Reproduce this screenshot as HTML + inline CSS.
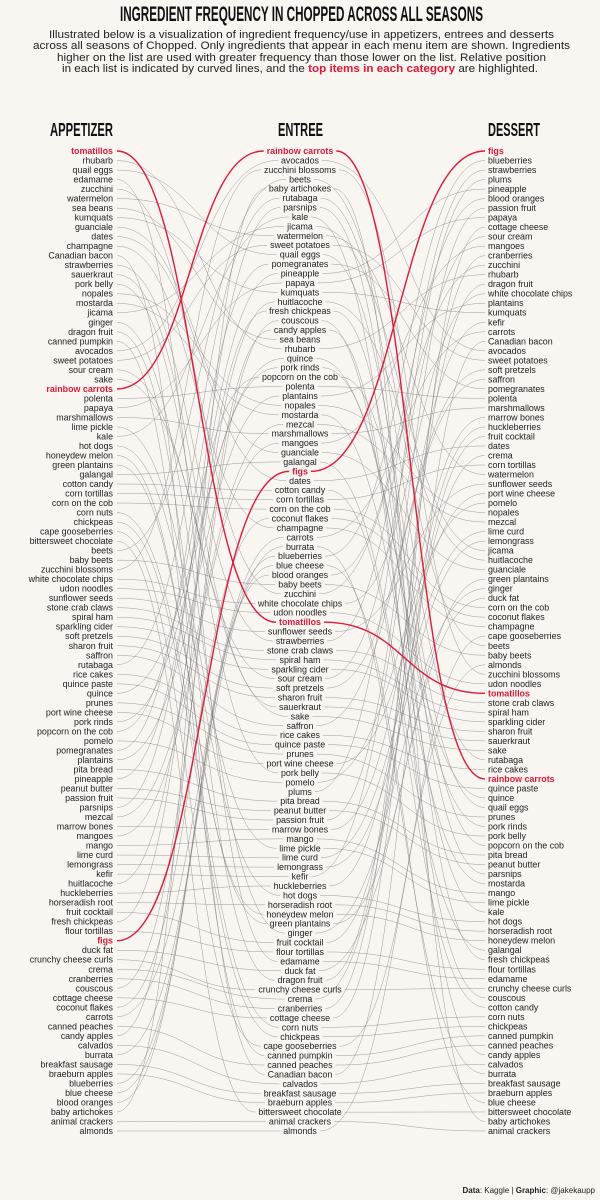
<!DOCTYPE html>
<html><head><meta charset="utf-8"><style>
html,body{margin:0;padding:0;background:#f9f5f1;}
svg{display:block}
</style></head><body>
<svg id="s" width="600" height="1200" xmlns="http://www.w3.org/2000/svg" font-family="Liberation Sans, sans-serif">
<rect width="600" height="1200" fill="#f9f5f1"/>
<text x="120" y="21" textLength="363" lengthAdjust="spacingAndGlyphs" font-weight="bold" font-size="19" fill="#111" transform="translate(0,21) scale(1,1.1) translate(0,-21)">INGREDIENT FREQUENCY IN CHOPPED ACROSS ALL SEASONS</text>
<g font-size="11" fill="#222">
<text x="49" y="38" textLength="505" lengthAdjust="spacingAndGlyphs">Illustrated below is a visualization of ingredient frequency/use in appetizers, entrees and desserts</text>
<text x="33" y="49" textLength="537" lengthAdjust="spacingAndGlyphs">across all seasons of Chopped. Only ingredients that appear in each menu item are shown. Ingredients</text>
<text x="57" y="61" textLength="489" lengthAdjust="spacingAndGlyphs">higher on the list are used with greater frequency than those lower on the list. Relative position</text>
<text x="62" y="72" textLength="476" lengthAdjust="spacingAndGlyphs">in each list is indicated by curved lines, and the <tspan fill="#e0193a" font-weight="bold">top items in each category</tspan> are highlighted.</text>
</g>
<g font-weight="bold" font-size="16" fill="#111">
<text x="50" y="136" textLength="63" lengthAdjust="spacingAndGlyphs" transform="translate(0,136) scale(1,1.15) translate(0,-136)">APPETIZER</text>
<text x="278" y="136" textLength="45" lengthAdjust="spacingAndGlyphs" transform="translate(0,136) scale(1,1.15) translate(0,-136)">ENTREE</text>
<text x="488" y="136" textLength="52" lengthAdjust="spacingAndGlyphs" transform="translate(0,136) scale(1,1.15) translate(0,-136)">DESSERT</text>
</g>
<g id="lines" fill="none"></g>
<g id="txt" font-size="8.9" fill="#222"></g>
<text x="595" y="1193" text-anchor="end" font-size="8" fill="#222"><tspan font-weight="bold">Data</tspan>: Kaggle | <tspan font-weight="bold">Graphic</tspan>: @jakekaupp</text>
</svg>
<script>
const A=`tomatillos|rhubarb|quail eggs|edamame|zucchini|watermelon|sea beans|kumquats|guanciale|dates|champagne|Canadian bacon|strawberries|sauerkraut|pork belly|nopales|mostarda|jicama|ginger|dragon fruit|canned pumpkin|avocados|sweet potatoes|sour cream|sake|rainbow carrots|polenta|papaya|marshmallows|lime pickle|kale|hot dogs|honeydew melon|green plantains|galangal|cotton candy|corn tortillas|corn on the cob|corn nuts|chickpeas|cape gooseberries|bittersweet chocolate|beets|baby beets|zucchini blossoms|white chocolate chips|udon noodles|sunflower seeds|stone crab claws|spiral ham|sparkling cider|soft pretzels|sharon fruit|saffron|rutabaga|rice cakes|quince paste|quince|prunes|port wine cheese|pork rinds|popcorn on the cob|pomelo|pomegranates|plantains|pita bread|pineapple|peanut butter|passion fruit|parsnips|mezcal|marrow bones|mangoes|mango|lime curd|lemongrass|kefir|huitlacoche|huckleberries|horseradish root|fruit cocktail|fresh chickpeas|flour tortillas|figs|duck fat|crunchy cheese curls|crema|cranberries|couscous|cottage cheese|coconut flakes|carrots|canned peaches|candy apples|calvados|burrata|breakfast sausage|braeburn apples|blueberries|blue cheese|blood oranges|baby artichokes|animal crackers|almonds`.split('|');
const E=`rainbow carrots|avocados|zucchini blossoms|beets|baby artichokes|rutabaga|parsnips|kale|jicama|watermelon|sweet potatoes|quail eggs|pomegranates|pineapple|papaya|kumquats|huitlacoche|fresh chickpeas|couscous|candy apples|sea beans|rhubarb|quince|pork rinds|popcorn on the cob|polenta|plantains|nopales|mostarda|mezcal|marshmallows|mangoes|guanciale|galangal|figs|dates|cotton candy|corn tortillas|corn on the cob|coconut flakes|champagne|carrots|burrata|blueberries|blue cheese|blood oranges|baby beets|zucchini|white chocolate chips|udon noodles|tomatillos|sunflower seeds|strawberries|stone crab claws|spiral ham|sparkling cider|sour cream|soft pretzels|sharon fruit|sauerkraut|sake|saffron|rice cakes|quince paste|prunes|port wine cheese|pork belly|pomelo|plums|pita bread|peanut butter|passion fruit|marrow bones|mango|lime pickle|lime curd|lemongrass|kefir|huckleberries|hot dogs|horseradish root|honeydew melon|green plantains|ginger|fruit cocktail|flour tortillas|edamame|duck fat|dragon fruit|crunchy cheese curls|crema|cranberries|cottage cheese|corn nuts|chickpeas|cape gooseberries|canned pumpkin|canned peaches|Canadian bacon|calvados|breakfast sausage|braeburn apples|bittersweet chocolate|animal crackers|almonds`.split('|');
const D=`figs|blueberries|strawberries|plums|pineapple|blood oranges|passion fruit|papaya|cottage cheese|sour cream|mangoes|cranberries|zucchini|rhubarb|dragon fruit|white chocolate chips|plantains|kumquats|kefir|carrots|Canadian bacon|avocados|sweet potatoes|soft pretzels|saffron|pomegranates|polenta|marshmallows|marrow bones|huckleberries|fruit cocktail|dates|crema|corn tortillas|watermelon|sunflower seeds|port wine cheese|pomelo|nopales|mezcal|lime curd|lemongrass|jicama|huitlacoche|guanciale|green plantains|ginger|duck fat|corn on the cob|coconut flakes|champagne|cape gooseberries|beets|baby beets|almonds|zucchini blossoms|udon noodles|tomatillos|stone crab claws|spiral ham|sparkling cider|sharon fruit|sauerkraut|sake|rutabaga|rice cakes|rainbow carrots|quince paste|quince|quail eggs|prunes|pork rinds|pork belly|popcorn on the cob|pita bread|peanut butter|parsnips|mostarda|mango|lime pickle|kale|hot dogs|horseradish root|honeydew melon|galangal|fresh chickpeas|flour tortillas|edamame|crunchy cheese curls|couscous|cotton candy|corn nuts|chickpeas|canned pumpkin|canned peaches|candy apples|calvados|burrata|breakfast sausage|braeburn apples|blue cheese|bittersweet chocolate|baby artichokes|animal crackers`.split('|');
const HL=new Set(['tomatillos','rainbow carrots','figs']);
const NS='http://www.w3.org/2000/svg';
const txt=document.getElementById('txt'),lines=document.getElementById('lines');
function yy(list,i){return 151+i*(1131-151)/(list.length-1);}
function mk(s,x,y,anchor){const t=document.createElementNS(NS,'text');t.setAttribute('x',x);t.setAttribute('y',y+3);t.setAttribute('text-anchor',anchor);t.textContent=s;if(HL.has(s)){t.setAttribute('fill','#e0193a');t.setAttribute('font-weight','bold');}txt.appendChild(t);return t;}
const aPos={},ePos={},dPos={};
A.forEach((s,i)=>{mk(s,113,yy(A,i),'end');aPos[s]={x:117,y:yy(A,i)};});
E.forEach((s,i)=>{const t=mk(s,300,yy(E,i),'middle');const w=t.getComputedTextLength();ePos[s]={l:300-w/2-3,r:300+w/2+3,y:yy(E,i)};});
D.forEach((s,i)=>{mk(s,488,yy(D,i),'start');dPos[s]={x:485,y:yy(D,i)};});
function curve(x1,y1,x2,y2,red){const p=document.createElementNS(NS,'path');const k=(x2-x1)*0.5;p.setAttribute('d',`M${x1},${y1} C${x1+k},${y1} ${x2-k},${y2} ${x2},${y2}`);if(red){p.setAttribute('stroke','#e0193a');p.setAttribute('stroke-width','1.4');}else{p.setAttribute('stroke','#777');p.setAttribute('stroke-width','0.45');p.setAttribute('stroke-opacity','0.8');}return p;}
const reds=[];
for(const s in aPos){if(ePos[s]){const p=curve(aPos[s].x,aPos[s].y,ePos[s].l,ePos[s].y,HL.has(s));if(HL.has(s))reds.push(p);else lines.appendChild(p);}}
for(const s in ePos){if(dPos[s]){const p=curve(ePos[s].r,ePos[s].y,dPos[s].x,dPos[s].y,HL.has(s));if(HL.has(s))reds.push(p);else lines.appendChild(p);}}
reds.forEach(p=>lines.appendChild(p));
</script>
</body></html>
